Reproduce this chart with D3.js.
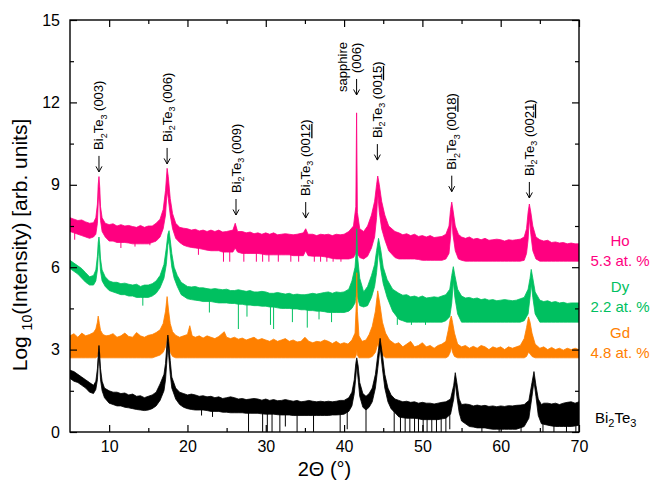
<!DOCTYPE html>
<html>
<head>
<meta charset="utf-8">
<script src="https://cdn.jsdelivr.net/npm/d3@7"></script>
<style>
body { margin: 0; background: #fff; }
svg { display: block; font-family: "Liberation Sans", Arial, sans-serif; }
</style>
</head>
<body>
<svg id="chart" width="652" height="485"></svg>
<script>
// XRD scans, log10 intensity (offset) vs 2theta.
// each row: [2theta, lower edge of noise band, upper edge of noise band]
var hoData = [
 [5,7.3,7.8],[5.5,7.25,7.75],[6,7.2,7.7],[6.5,7.15,7.72],[7,7.1,7.65],[7.5,7.05,7.6],[8,7.1,7.62],[8.3,7.2,7.8],
 [8.5,7.6,8.3],[8.6,8.3,9.0],[8.7,8.9,9.3],[8.8,8.3,8.9],[8.9,7.7,8.2],[9.1,7.3,7.8],[9.5,7.1,7.6],
 [10,6.95,7.55],[10.5,6.95,7.58],[11,6.9,7.5],[11.5,6.9,7.55],[12,6.9,7.5],[12.5,6.88,7.52],[13,6.85,7.48],
 [13.5,6.85,7.45],[14,6.85,7.52],[14.5,6.85,7.45],[15,6.85,7.5],[15.5,6.9,7.5],[16,6.95,7.6],[16.5,7.1,7.75],
 [16.9,7.4,8.1],[17.2,7.9,8.8],[17.4,8.8,9.6],[17.55,8.5,9.3],[17.8,7.9,8.5],[18.1,7.4,7.95],[18.5,7.05,7.6],
 [19,6.9,7.45],[19.5,6.8,7.42],[20,6.75,7.4],[20.5,6.72,7.35],[21,6.7,7.38],[21.5,6.68,7.32],[22,6.65,7.35],
 [22.5,6.62,7.3],[23,6.6,7.35],[23.5,6.6,7.3],[24,6.6,7.35],[24.5,6.55,7.28],[25,6.55,7.3],[25.8,6.55,7.35],
 [26.1,6.7,7.6],[26.4,6.55,7.3],[27,6.5,7.3],[27.5,6.5,7.25],[28,6.5,7.28],[28.5,6.5,7.22],[29,6.5,7.25],
 [29.5,6.48,7.2],[30,6.45,7.25],[30.5,6.45,7.2],[31,6.45,7.25],[31.5,6.45,7.18],[32,6.45,7.2],[32.5,6.45,7.22],
 [33,6.45,7.2],[33.5,6.42,7.18],[34,6.42,7.2],[34.8,6.42,7.25],[35.1,6.6,7.4],[35.4,6.42,7.2],[36,6.4,7.2],
 [36.5,6.4,7.15],[37,6.4,7.2],[37.5,6.38,7.18],[38,6.35,7.2],[38.5,6.32,7.15],[39,6.3,7.2],[39.5,6.3,7.18],
 [40,6.3,7.2],[40.6,6.3,7.3],[41.2,6.35,7.5],[41.5,6.5,8.2],[41.6,6.6,11.62],[41.7,6.5,8.0],[42,6.35,7.4],
 [42.5,6.3,7.3],[43,6.4,7.5],[43.5,6.7,7.9],[43.9,7.1,8.4],[44.15,7.8,9.0],[44.3,8.7,9.32],[44.5,8.0,9.0],
 [44.8,7.4,8.4],[45.2,7.0,7.9],[45.7,6.6,7.5],[46.5,6.35,7.3],[47,6.3,7.25],[47.5,6.3,7.18],[48,6.3,7.22],
 [48.5,6.3,7.15],[49,6.3,7.2],[49.5,6.28,7.12],[50,6.25,7.15],[50.5,6.25,7.1],[51,6.25,7.15],[51.5,6.25,7.08],
 [52,6.25,7.1],[52.5,6.25,7.12],[53,6.3,7.2],[53.4,6.5,7.5],[53.6,7.1,8.1],[53.75,7.9,8.37],[53.9,7.2,8.1],
 [54.2,6.6,7.5],[54.6,6.3,7.2],[55,6.25,7.1],[55.5,6.22,7.05],[56,6.22,7.1],[56.5,6.22,7.02],[57,6.22,7.05],
 [57.5,6.22,7.0],[58,6.22,7.05],[58.5,6.22,6.98],[59,6.22,7.0],[59.5,6.22,7.02],[60,6.22,7.0],[60.5,6.22,6.95],
 [61,6.22,7.0],[61.5,6.22,6.98],[62,6.22,7.0],[62.5,6.22,7.02],[63,6.25,7.1],[63.3,6.5,7.4],[63.5,7.0,8.0],
 [63.66,7.8,8.3],[63.85,7.2,8.0],[64.1,6.6,7.5],[64.5,6.3,7.1],[65,6.22,7.0],[65.5,6.22,6.95],[66,6.22,6.98],
 [66.5,6.22,6.9],[67,6.22,6.92],[67.5,6.22,6.88],[68,6.22,6.9],[68.5,6.22,6.85],[69,6.22,6.88],[69.5,6.22,6.85],
 [70,6.22,6.85]
];
var dyData = [
 [5,5.95,6.25],[5.5,5.85,6.15],[6,5.75,6.05],[6.5,5.6,5.95],[7,5.45,5.8],[7.5,5.35,5.65],[8,5.35,5.7],
 [8.3,5.5,5.9],[8.5,5.9,6.4],[8.6,6.4,6.9],[8.7,6.8,7.1],[8.8,6.3,6.8],[8.9,5.85,6.3],[9.1,5.5,5.9],
 [9.5,5.3,5.65],[10,5.15,5.5],[10.5,5.1,5.45],[11,5.05,5.45],[11.5,5.0,5.4],[12,5.0,5.42],[12.5,4.95,5.38],
 [13,4.95,5.35],[13.5,4.9,5.38],[14,4.9,5.3],[14.5,4.9,5.35],[15,4.9,5.35],[15.5,4.95,5.4],[16,5.05,5.5],
 [16.5,5.25,5.7],[17,5.6,6.1],[17.3,6.1,6.7],[17.5,6.8,7.2],[17.65,7.0,7.33],[17.8,6.5,7.0],[18,6.0,6.5],
 [18.3,5.6,6.0],[18.7,5.3,5.7],[19.2,5.0,5.45],[20,4.85,5.3],[20.5,4.82,5.28],[21,4.8,5.3],[21.5,4.78,5.25],
 [22,4.75,5.25],[22.5,4.75,5.22],[23,4.75,5.2],[23.5,4.72,5.22],[24,4.7,5.2],[24.5,4.7,5.18],[25,4.7,5.2],
 [25.5,4.68,5.15],[26,4.68,5.15],[26.5,4.65,5.18],[27,4.65,5.15],[27.5,4.62,5.12],[28,4.62,5.15],[28.5,4.6,5.1],
 [29,4.6,5.1],[29.5,4.58,5.12],[30,4.58,5.1],[30.5,4.55,5.05],[31,4.55,5.05],[31.5,4.52,5.08],[32,4.5,5.05],
 [32.5,4.5,5.02],[33,4.5,5.05],[33.5,4.48,5.0],[34,4.48,5.02],[34.5,4.45,5.0],[35,4.45,5.0],[35.5,4.42,5.02],
 [36,4.42,5.05],[36.5,4.4,5.02],[37,4.4,5.05],[37.5,4.38,5.08],[38,4.35,5.1],[38.5,4.35,5.05],[39,4.35,5.1],
 [39.5,4.35,5.08],[40,4.35,5.1],[40.6,4.4,5.2],[41,4.5,5.5],[41.4,4.7,6.0],[41.55,5.0,6.6],[41.62,5.2,7.4],
 [41.72,4.9,6.4],[42,4.6,5.6],[42.5,4.55,5.1],[43,4.6,5.3],[43.5,4.9,5.7],[43.9,5.3,6.1],[44.15,5.8,6.6],
 [44.4,6.6,7.05],[44.7,5.9,6.6],[45.0,5.4,6.0],[45.5,4.9,5.55],[46.2,4.4,5.2],[47,4.1,5.05],[47.5,4.05,4.98],
 [48,4.0,5.0],[48.5,4.0,4.92],[49,4.0,4.95],[49.5,4.0,4.9],[50,4.0,4.95],[50.5,4.0,4.88],[51,4.0,4.9],
 [51.5,4.0,4.92],[52,4.0,4.9],[52.5,4.0,4.95],[53,4.05,5.0],[53.5,4.2,5.2],[53.75,4.7,5.7],[53.95,5.5,6.02],
 [54.15,4.9,5.7],[54.5,4.3,5.2],[55,4.0,4.95],[55.5,4.0,4.88],[56,4.0,4.9],[56.5,4.0,4.85],[57,4.0,4.88],
 [57.5,4.0,4.82],[58,4.0,4.85],[58.5,4.0,4.8],[59,4.0,4.82],[59.5,4.0,4.78],[60,4.0,4.8],[60.5,4.0,4.82],
 [61,4.0,4.8],[61.5,4.0,4.78],[62,4.0,4.8],[62.5,4.0,4.85],[63,4.05,4.9],[63.5,4.3,5.2],[63.75,4.9,5.6],
 [63.9,5.4,5.92],[64.1,4.9,5.6],[64.4,4.3,5.1],[65,4.0,4.8],[65.5,4.0,4.75],[66,4.0,4.78],[66.5,4.0,4.72],
 [67,4.0,4.75],[67.5,4.0,4.7],[68,4.0,4.72],[68.5,4.0,4.68],[69,4.0,4.7],[69.5,4.0,4.7],[70,4.0,4.7]
];
var gdData = [
 [5,2.7,3.5],[5.5,2.7,3.58],[6,2.7,3.45],[6.5,2.7,3.6],[7,2.7,3.5],[7.5,2.7,3.55],[8,2.7,3.62],[8.3,2.7,3.75],
 [8.5,2.75,4.0],[8.6,2.9,4.22],[8.75,2.8,3.95],[8.9,2.7,3.7],[9.2,2.7,3.55],[9.6,2.7,3.5],[10,2.7,3.52],
 [10.5,2.7,3.58],[11,2.7,3.45],[11.5,2.7,3.5],[12,2.7,3.6],[12.5,2.7,3.48],[13,2.7,3.45],[13.5,2.7,3.62],
 [14,2.7,3.5],[14.5,2.7,3.45],[15,2.7,3.52],[15.5,2.7,3.55],[16,2.75,3.62],[16.5,2.8,3.72],[16.9,2.9,3.95],
 [17.2,3.1,4.4],[17.4,3.4,4.93],[17.6,3.1,4.4],[17.8,2.9,3.95],[18.1,2.75,3.65],[18.5,2.7,3.52],[19,2.7,3.45],
 [19.5,2.7,3.5],[20,2.7,3.55],[20.3,2.7,3.87],[20.6,2.7,3.5],[21,2.7,3.45],[21.5,2.7,3.5],[22,2.7,3.42],
 [22.5,2.7,3.5],[23,2.7,3.45],[23.5,2.7,3.4],[24,2.7,3.48],[24.7,2.7,3.65],[25,2.7,3.45],[25.5,2.7,3.4],
 [26,2.7,3.45],[26.5,2.7,3.38],[27,2.7,3.42],[27.5,2.7,3.35],[28,2.7,3.4],[28.5,2.7,3.45],[29,2.7,3.35],
 [29.5,2.7,3.4],[30,2.7,3.35],[30.5,2.7,3.3],[31,2.7,3.38],[31.5,2.7,3.3],[32,2.7,3.35],[32.5,2.7,3.4],
 [33,2.7,3.3],[33.5,2.7,3.35],[34,2.7,3.28],[34.5,2.7,3.3],[35,2.7,3.45],[35.5,2.7,3.3],[36,2.7,3.25],
 [36.5,2.7,3.3],[37,2.7,3.28],[37.5,2.7,3.35],[38,2.7,3.3],[38.5,2.7,3.22],[39,2.7,3.3],[39.5,2.7,3.2],
 [40,2.7,3.25],[40.5,2.7,3.2],[41,2.7,3.35],[41.4,2.7,3.6],[41.55,2.8,4.6],[41.62,3.0,5.8],[41.7,2.8,4.4],
 [41.9,2.7,3.5],[42.3,2.7,3.3],[42.8,2.7,3.35],[43.2,2.7,3.55],[43.6,2.75,3.85],[44.0,2.9,4.4],[44.3,3.2,5.14],
 [44.6,3.0,4.6],[44.9,2.8,4.0],[45.3,2.7,3.6],[45.8,2.7,3.35],[46.5,2.7,3.2],[47,2.7,3.25],[47.5,2.7,3.1],
 [48,2.7,3.2],[48.5,2.7,3.3],[49,2.7,3.1],[49.5,2.7,3.15],[50,2.7,3.25],[50.5,2.7,3.1],[51,2.7,3.15],
 [51.5,2.7,3.05],[52,2.7,3.15],[52.5,2.7,3.2],[53,2.7,3.3],[53.3,2.75,3.7],[53.55,2.9,4.1],[53.7,3.1,4.22],
 [53.85,2.9,4.0],[54.1,2.75,3.6],[54.5,2.7,3.2],[55,2.7,3.1],[55.5,2.7,3.15],[56,2.7,3.05],[56.5,2.7,3.12],
 [57,2.7,3.05],[57.5,2.7,3.15],[58,2.7,3.1],[58.5,2.7,3.0],[59,2.7,3.1],[59.5,2.7,3.05],[60,2.7,3.1],
 [60.5,2.7,3.0],[61,2.7,3.1],[61.5,2.7,3.05],[62,2.7,3.1],[62.5,2.7,3.15],[63,2.7,3.4],[63.3,2.75,3.8],
 [63.55,2.9,4.19],[63.75,2.85,4.0],[64.0,2.75,3.6],[64.4,2.7,3.2],[65,2.7,3.05],[65.5,2.7,3.1],[66,2.7,3.0],
 [66.5,2.7,3.08],[67,2.7,3.0],[67.5,2.7,3.05],[68,2.7,2.98],[68.5,2.7,3.05],[69,2.7,3.0],[69.5,2.7,3.05],
 [70,2.7,3.0]
];
var bteData = [
 [5,1.95,2.25],[5.5,1.85,2.2],[6,1.8,2.1],[6.5,1.7,2.0],[7,1.6,1.9],[7.5,1.45,1.8],[8,1.4,1.7],[8.3,1.55,1.85],
 [8.5,1.9,2.3],[8.6,2.4,2.8],[8.7,2.9,3.15],[8.8,2.4,2.8],[8.9,1.9,2.3],[9.1,1.5,1.85],[9.4,1.25,1.6],
 [10,1.05,1.5],[10.5,1.0,1.45],[11,0.95,1.45],[11.5,0.95,1.4],[12,0.9,1.42],[12.5,0.88,1.35],[13,0.85,1.38],
 [13.5,0.82,1.3],[14,0.8,1.32],[14.5,0.78,1.25],[15,0.8,1.3],[15.5,0.85,1.35],[16,0.95,1.45],[16.5,1.15,1.75],
 [17,1.5,2.1],[17.2,1.9,2.5],[17.4,2.7,3.3],[17.5,3.2,3.53],[17.6,2.8,3.3],[17.8,2.1,2.6],[18,1.6,2.0],
 [18.5,1.2,1.6],[19,1.0,1.45],[19.5,0.9,1.4],[20,0.85,1.35],[20.5,0.82,1.38],[21,0.8,1.35],[21.5,0.8,1.3],
 [22,0.8,1.32],[22.5,0.78,1.28],[23,0.75,1.3],[23.5,0.75,1.25],[24,0.75,1.28],[24.5,0.72,1.22],[25,0.72,1.25],
 [25.5,0.7,1.28],[26,0.7,1.25],[26.5,0.7,1.2],[27,0.7,1.22],[27.5,0.68,1.18],[28,0.68,1.2],[28.5,0.68,1.22],
 [29,0.68,1.2],[29.5,0.66,1.16],[30,0.65,1.2],[30.5,0.65,1.15],[31,0.65,1.18],[31.5,0.63,1.14],[32,0.62,1.15],
 [32.5,0.62,1.18],[33,0.62,1.15],[33.5,0.6,1.12],[34,0.6,1.15],[34.5,0.6,1.1],[35,0.6,1.12],[35.5,0.6,1.15],
 [36,0.6,1.12],[36.5,0.6,1.1],[37,0.6,1.12],[37.5,0.6,1.1],[38,0.6,1.12],[38.5,0.62,1.1],[39,0.62,1.12],
 [39.5,0.63,1.15],[40,0.65,1.15],[40.6,0.75,1.25],[41.0,0.95,1.45],[41.3,1.4,1.9],[41.5,2.0,2.5],[41.62,2.45,2.7],
 [41.8,1.9,2.4],[42.0,1.3,1.8],[42.4,0.9,1.4],[42.8,0.8,1.3],[43.2,0.9,1.4],[43.6,1.1,1.6],[44.0,1.6,2.1],
 [44.3,2.3,2.8],[44.6,3.1,3.41],[44.9,2.3,2.8],[45.2,1.6,2.1],[45.6,1.1,1.6],[46,0.85,1.35],[46.5,0.7,1.2],
 [47,0.55,1.15],[47.5,0.52,1.1],[48,0.5,1.12],[48.5,0.5,1.08],[49,0.5,1.1],[49.5,0.48,1.05],[50,0.45,1.08],
 [50.5,0.45,1.05],[51,0.45,1.05],[51.5,0.45,1.02],[52,0.45,1.05],[52.5,0.48,1.08],[53,0.5,1.1],[53.6,0.65,1.2],
 [54.0,1.2,1.7],[54.2,1.8,2.16],[54.4,1.3,1.8],[54.7,0.7,1.2],[55,0.4,1.0],[55.5,0.3,1.02],[56,0.2,1.0],
 [56.5,0.18,0.95],[57,0.15,0.98],[57.5,0.15,0.95],[58,0.15,0.97],[58.5,0.12,0.93],[59,0.1,0.95],[59.5,0.1,0.92],
 [60,0.1,0.95],[60.5,0.1,0.93],[61,0.1,0.96],[61.5,0.1,0.95],[62,0.1,0.97],[62.5,0.15,0.98],[63,0.2,1.0],
 [63.6,0.5,1.15],[64.0,1.3,1.8],[64.25,1.85,2.2],[64.5,1.3,1.7],[64.8,0.6,1.2],[65.2,0.3,1.0],[65.5,0.28,1.05],
 [66,0.25,1.05],[66.5,0.22,1.02],[67,0.2,1.05],[67.5,0.2,1.0],[68,0.2,1.05],[68.5,0.2,1.08],[69,0.2,1.1],
 [69.5,0.22,1.05],[70,0.25,1.1]
];

// downward noise spikes: [2theta, lowest value]
var hoDips = [[5.6,7.0],[11.5,6.7],[13.3,6.75],[15.2,6.8],[21.4,6.45],[24.6,6.2],[25.4,6.2],[27.2,6.2],[28.8,6.2],
 [29.6,6.2],[30.4,6.2],[31.6,6.2],[33.2,6.2],[34.2,6.2],[36.2,6.2],[37.0,6.2],[37.8,6.2],[38.6,6.2],[39.6,6.2]];
var dyDips = [[14.3,4.6],[22.8,4.35],[26.5,3.75],[27.6,4.2],[30.6,3.9],[31.0,3.75],[33.4,4.0],[35.3,3.8],
 [36.8,4.1],[38.4,4.0],[46.8,3.9],[48.6,3.9],[50.4,3.9]];
var gdDips = [];
var bteDips = [[21.8,0.6],[23.2,0.55],[27.8,0],[29.6,0],[30.2,0],[30.8,0],[31.8,0],[32.5,0.2],[34.0,0],[36.1,0],
 [39.5,0],[40.4,0.1],[42.8,0],[46.4,0],[47.2,0],[47.8,0],[48.4,0],[49.0,0],[49.5,0],[50.1,0],[50.6,0],[51.2,0],
 [51.8,0],[52.4,0],[53.0,0],[53.5,0.1],[57.6,0],[59.8,0],[62.6,0],[65.4,0],[66.8,0],[68.4,0],[69.6,0]];

var seriesNames = ["Ho", "Dy", "Gd", "Bi2Te3"];
var seriesConc = ["5.3 at. %", "2.2 at. %", "4.8 at. %", ""];
var seriesColors = ["#ff0080", "#00c060", "#ff8000", "#000000"];
var labelLevel = [6.99, 5.29, 3.61, 0.51];

// peak markers
var annTheta = [8.7, 17.4, 26.2, 35.1, 41.6, 44.25, 53.75, 63.66];
var annTip = [9.47, 9.76, 7.9, 7.79, 12.27, 9.9, 8.75, 8.52];
var annHkl = ["003", "006", "009", "0012", "006", "0015", "0018", "0021"];
var annPhase = ["Bi2Te3", "Bi2Te3", "Bi2Te3", "Bi2Te3", "sapphire", "Bi2Te3", "Bi2Te3", "Bi2Te3"];

var xTicks = [10, 20, 30, 40, 50, 60, 70];
var xMinor = [15, 25, 35, 45, 55, 65];
var yTicks = [0, 3, 6, 9, 12, 15];
var yMinor = [1.5, 4.5, 7.5, 10.5, 13.5];

var margin = {left: 70, top: 20, right: 73, bottom: 53};
var W = 652, H = 485;
var pw = W - margin.left - margin.right, ph = H - margin.top - margin.bottom;

var svg = d3.select("#chart");
var x = d3.scaleLinear().domain([5, 70]).range([margin.left, margin.left + pw]);
var y = d3.scaleLinear().domain([0, 15]).range([margin.top + ph, margin.top]);

svg.append("clipPath").attr("id", "plotclip")
  .append("rect").attr("x", margin.left).attr("y", margin.top).attr("width", pw).attr("height", ph);

var plot = svg.append("g").attr("clip-path", "url(#plotclip)");

var band = d3.area()
  .x(function(d) { return x(d[0]); })
  .y0(function(d) { return y(d[1]); })
  .y1(function(d) { return y(d[2]); });

function loAt(rows, t) {
  var i = d3.bisector(function(d) { return d[0]; }).left(rows, t);
  if (i <= 0) return rows[0][1];
  if (i >= rows.length) return rows[rows.length - 1][1];
  var a = rows[i - 1], b = rows[i];
  return a[1] + (t - a[0]) / (b[0] - a[0]) * (b[1] - a[1]);
}

var allData = [hoData, dyData, gdData, bteData];
var allDips = [hoDips, dyDips, gdDips, bteDips];

// drawn back to front: Ho, Dy, Gd, Bi2Te3
allData.forEach(function(rows, k) {
  var col = seriesColors[k];
  plot.append("path").datum(rows)
    .attr("d", band)
    .attr("fill", col)
    .attr("stroke", col)
    .attr("stroke-width", 0.8)
    .attr("stroke-linejoin", "round");
  plot.append("g").selectAll("line").data(allDips[k]).enter().append("line")
    .attr("x1", function(d) { return x(d[0]); })
    .attr("x2", function(d) { return x(d[0]); })
    .attr("y1", function(d) { return y(d[1]); })
    .attr("y2", function(d) { return y(loAt(rows, d[0]) + 0.1); })
    .attr("stroke", col)
    .attr("stroke-width", 1);
});

// axes, ticks inside on all four sides
function styleAxis(g) {
  g.select(".domain").remove();
  g.selectAll(".tick line").attr("stroke", "#000").attr("stroke-width", 1.2);
  g.selectAll("text").attr("font-size", 16).attr("fill", "#000").attr("font-family", "Liberation Sans, Arial, sans-serif");
}
svg.append("g").attr("transform", "translate(0," + (margin.top + ph) + ")")
  .call(d3.axisBottom(x).tickValues(xTicks).tickSize(-7).tickPadding(9).tickFormat(d3.format("d"))).call(styleAxis);
svg.append("g").attr("transform", "translate(0," + (margin.top + ph) + ")")
  .call(d3.axisBottom(x).tickValues(xMinor).tickSize(-4).tickFormat("")).call(styleAxis);
svg.append("g").attr("transform", "translate(0," + margin.top + ")")
  .call(d3.axisTop(x).tickValues(xTicks).tickSize(-7).tickFormat("")).call(styleAxis);
svg.append("g").attr("transform", "translate(0," + margin.top + ")")
  .call(d3.axisTop(x).tickValues(xMinor).tickSize(-4).tickFormat("")).call(styleAxis);
svg.append("g").attr("transform", "translate(" + margin.left + ",0)")
  .call(d3.axisLeft(y).tickValues(yTicks).tickSize(-7).tickPadding(10).tickFormat(d3.format("d"))).call(styleAxis);
svg.append("g").attr("transform", "translate(" + margin.left + ",0)")
  .call(d3.axisLeft(y).tickValues(yMinor).tickSize(-4).tickFormat("")).call(styleAxis);
svg.append("g").attr("transform", "translate(" + (margin.left + pw) + ",0)")
  .call(d3.axisRight(y).tickValues(yTicks).tickSize(-7).tickFormat("")).call(styleAxis);
svg.append("g").attr("transform", "translate(" + (margin.left + pw) + ",0)")
  .call(d3.axisRight(y).tickValues(yMinor).tickSize(-4).tickFormat("")).call(styleAxis);

svg.append("rect")
  .attr("x", margin.left).attr("y", margin.top).attr("width", pw).attr("height", ph)
  .attr("fill", "none").attr("stroke", "#000").attr("stroke-width", 1.4);

// axis titles
svg.append("text")
  .attr("x", margin.left + pw / 2).attr("y", 476)
  .attr("text-anchor", "middle").attr("font-size", 20)
  .text("2\u0398 (\u00b0)");

var yt = svg.append("text")
  .attr("transform", "translate(27,245) rotate(-90)")
  .attr("text-anchor", "middle").attr("font-size", 21);
yt.append("tspan").text("Log\u00a0");
yt.append("tspan").attr("font-size", 14).attr("dy", 5).text("10");
yt.append("tspan").attr("dy", -5).text("(Intensity) [arb. units]");

// Bi2Te3 with subscripts into a text element
function addFormula(t, fs, sub) {
  t.append("tspan").text("Bi");
  t.append("tspan").attr("font-size", sub).attr("dy", fs * 0.25).text("2");
  t.append("tspan").attr("dy", -fs * 0.25).text("Te");
  t.append("tspan").attr("font-size", sub).attr("dy", fs * 0.25).text("3");
  t.append("tspan").attr("dy", -fs * 0.25).text("\u00a0");
}

// peak annotations: arrow pointing down, rotated label above
var ann = svg.append("g");
annTheta.forEach(function(t, i) {
  var ax = x(t), ay = y(annTip[i]);
  ann.append("path")
    .attr("d", "M" + ax + "," + (ay - 16) + "V" + ay + "M" + (ax - 3) + "," + (ay - 5.5) + "L" + ax + "," + ay + "L" + (ax + 3) + "," + (ay - 5.5))
    .attr("fill", "none").attr("stroke", "#000").attr("stroke-width", 1);
  var txt = ann.append("text")
    .attr("transform", "translate(" + (ax + 4.5) + "," + (ay - 22) + ") rotate(-90)")
    .attr("font-size", 13);
  if (annPhase[i] === "Bi2Te3") {
    addFormula(txt, 13, 9);
  } else {
    ann.append("text")
      .attr("transform", "translate(" + (ax - 9.5) + "," + (ay - 28) + ") rotate(-90)")
      .attr("font-size", 13).attr("text-anchor", "middle")
      .text(annPhase[i]);
  }
  var hkl = annHkl[i];
  txt.append("tspan").text("(" + hkl.slice(0, hkl.length > 3 ? 2 : 3));
  if (hkl.length > 3) {
    txt.append("tspan").attr("text-decoration", "underline").text(hkl.slice(2));
  }
  txt.append("tspan").text(")");
});

// sample labels on the right
var lab = svg.append("g").attr("font-size", 15);
seriesNames.forEach(function(name, k) {
  var cy = y(labelLevel[k]);
  if (name === "Bi2Te3") {
    var t = lab.append("text").attr("x", 595).attr("y", cy + 5.5).attr("fill", seriesColors[k]);
    t.append("tspan").text("Bi");
    t.append("tspan").attr("font-size", 11).attr("dy", 4).text("2");
    t.append("tspan").attr("dy", -4).text("Te");
    t.append("tspan").attr("font-size", 11).attr("dy", 4).text("3");
  } else {
    lab.append("text").attr("x", 620).attr("y", cy + 5.5)
      .attr("text-anchor", "middle").attr("fill", seriesColors[k]).text(name);
    lab.append("text").attr("x", 620).attr("y", cy + 25.5)
      .attr("text-anchor", "middle").attr("fill", seriesColors[k]).text(seriesConc[k]);
  }
});
</script>
</body>
</html>
